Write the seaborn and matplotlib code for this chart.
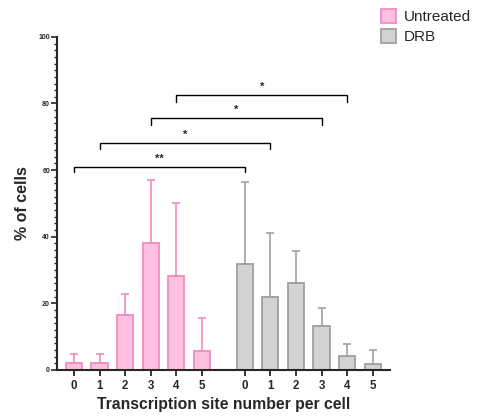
import numpy as np
import pandas as pd
import matplotlib
matplotlib.use("Agg")
import matplotlib.pyplot as plt
import seaborn as sns
from matplotlib.patches import Patch
from matplotlib.ticker import MultipleLocator

# ---- data ----
sites = [0, 1, 2, 3, 4, 5]
untreated_mean = [2.2, 2.2, 16.4, 38.1, 28.3, 5.8]
untreated_err = [2.7, 2.7, 6.3, 19.0, 21.9, 9.7]
drb_mean = [31.7, 21.8, 26.0, 13.1, 4.3, 1.8]
drb_err = [24.8, 19.4, 9.7, 5.6, 3.6, 4.2]
groups = ["Untreated", "DRB"]
group_offset = [0.0, 6.67]
# significance brackets: (untreated site, DRB site, label, height, drop)
brackets = [(0, 0, "**", 61.0, 59.3), (1, 1, "*", 68.2, 66.2),
            (3, 3, "*", 75.5, 73.4), (4, 4, "*", 82.5, 80.5)]

fills = ["#FFC0E0", "#D3D3D3"]
edges = ["#F38BC0", "#A0A0A0"]

sns.set_style("ticks")
plt.rcParams['font.family'] = ['Liberation Sans', 'DejaVu Sans']

rows = []
for g, off, means, errs in zip(groups, group_offset,
                               [untreated_mean, drb_mean],
                               [untreated_err, drb_err]):
    for s, m, e in zip(sites, means, errs):
        rows.append({"group": g, "site": s, "pos": s + off, "mean": m, "err": e})
df = pd.DataFrame(rows)

fig = plt.figure(figsize=(4.85, 4.19), dpi=100)
ax = fig.add_axes([0.1175, 0.117, 0.804 - 0.1175, 0.912 - 0.117])

for g, fc, ec in zip(groups, fills, edges):
    sub = df[df.group == g]
    ax.errorbar(sub["pos"], sub["mean"], yerr=[np.zeros(len(sub)), sub["err"]],
                fmt="none", ecolor=ec, elinewidth=1.2, capsize=3, capthick=1.2, zorder=1)
    sns.barplot(data=sub, x="pos", y="mean", native_scale=True, width=0.63,
                color=fc, edgecolor=ec, linewidth=1.3, errorbar=None,
                saturation=1, ax=ax, zorder=2)

ax.set_xlim(-0.66, 12.34)
ax.set_ylim(0, 100)
ax.set_xticks(df["pos"])
ax.set_xticklabels([str(s) for s in df["site"]], fontsize=8.3, fontweight="bold")
ax.yaxis.set_major_locator(MultipleLocator(20))
ax.yaxis.set_minor_locator(MultipleLocator(2))
ax.tick_params(axis="y", which="major", labelsize=5, length=4, width=1.2, pad=1)
ax.tick_params(axis="y", which="minor", length=2.2, width=1)
ax.tick_params(axis="x", which="major", length=4, width=1.3, pad=3)
for lab in ax.get_yticklabels():
    lab.set_fontweight("bold")
ax.set_xlabel("Transcription site number per cell", fontsize=11.3, fontweight="bold", labelpad=4)
ax.set_ylabel("% of cells", fontsize=11.5, fontweight="bold", labelpad=6)
sns.despine(ax=ax)
for sp in ["left", "bottom"]:
    ax.spines[sp].set_linewidth(1.5)

for u, d, lab, h, drop in brackets:
    x1 = u + group_offset[0]
    x2 = d + group_offset[1]
    ax.plot([x1, x1, x2, x2], [drop, h, h, drop], color="black", lw=1.0, clip_on=False)
    ax.text((x1 + x2) / 2, h + 1.0, lab, ha="center", va="bottom",
            fontsize=8, fontweight="bold")

handles = [Patch(facecolor=f, edgecolor=e, linewidth=1.3) for f, e in zip(fills, edges)]
fig.legend(handles, groups, loc="upper left", bbox_to_anchor=(0.757, 1.012),
           frameon=False, fontsize=11, handlelength=1.0, handleheight=1.1,
           handletextpad=0.5, labelspacing=0.3)

fig.savefig("out.png", dpi=100)
